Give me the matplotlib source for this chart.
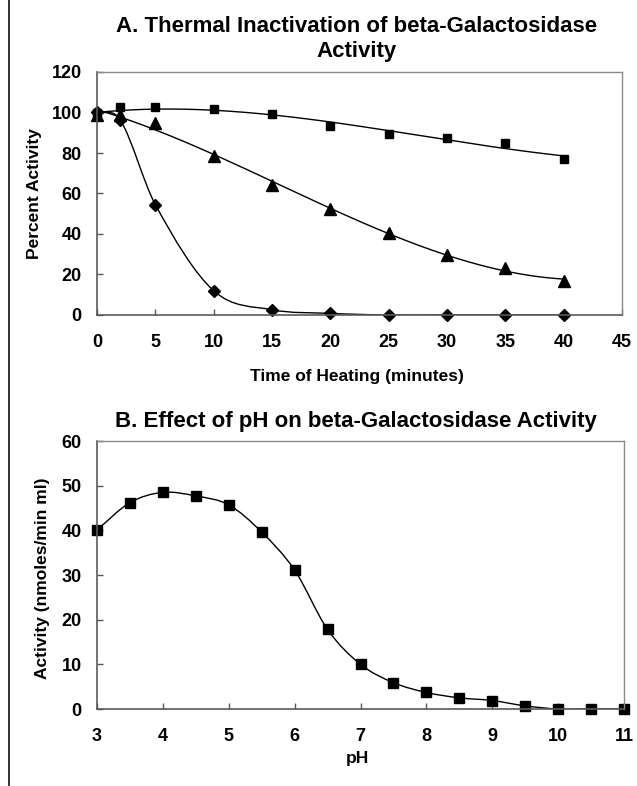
import numpy as np
import matplotlib
matplotlib.use('Agg')
import matplotlib.pyplot as plt
from matplotlib.path import Path
from matplotlib.patches import PathPatch
from matplotlib.lines import Line2D

plt.rcParams['font.family'] = ['Liberation Sans', 'DejaVu Sans']
plt.rcParams['font.weight'] = 'bold'

# Panel A: thermal inactivation (percent activity vs minutes of heating)
heat_time = [0, 2, 5, 10, 15, 20, 25, 30, 35, 40]
act_square = [100, 102.5, 102.5, 101.5, 99.5, 93.5, 89.2, 87.6, 84.8, 77]
act_triangle = [99, 98.7, 95, 78.5, 64, 52.5, 40.5, 29.5, 23.2, 16.8]
act_diamond = [100.2, 96.3, 54.5, 12, 2.6, 0.8, 0, 0, 0, 0]

# Panel B: pH profile
ph = [3, 3.5, 4, 4.5, 5, 5.5, 6, 6.5, 7, 7.5, 8, 8.5, 9, 9.5, 10, 10.5, 11]
ph_activity = [40.1, 46.2, 48.5, 47.7, 45.7, 39.6, 31.1, 17.8, 10.0, 5.9,
               3.7, 2.5, 1.9, 0.7, 0, 0, 0]

W, H = 637, 786
fig = plt.figure(figsize=(W / 100, H / 100), dpi=100)
fig.patch.set_facecolor('white')


def px_box(left, top, right, bottom):
    return [left / W, 1 - bottom / H, (right - left) / W, (bottom - top) / H]


def smooth_path(x, y):
    """Smooth curve through the points (cubic Hermite / Bezier segments)."""
    x = np.asarray(x, float)
    y = np.asarray(y, float)
    n = len(x)
    m = np.zeros(n)
    m[0] = (y[1] - y[0]) / (x[1] - x[0])
    m[-1] = (y[-1] - y[-2]) / (x[-1] - x[-2])
    for i in range(1, n - 1):
        m[i] = (y[i + 1] - y[i - 1]) / (x[i + 1] - x[i - 1])
    verts = [(x[0], y[0])]
    codes = [Path.MOVETO]
    for i in range(n - 1):
        h = x[i + 1] - x[i]
        verts += [(x[i] + h / 3, y[i] + m[i] * h / 3),
                  (x[i + 1] - h / 3, y[i + 1] - m[i + 1] * h / 3),
                  (x[i + 1], y[i + 1])]
        codes += [Path.CURVE4] * 3
    return Path(verts, codes)


def style_axes(ax):
    for side in ['left', 'bottom']:
        ax.spines[side].set_color('#5a5a5a')
        ax.spines[side].set_linewidth(1.2)
    for side in ['top', 'right']:
        ax.spines[side].set_color('#8c8c8c')
        ax.spines[side].set_linewidth(1.0)
    ax.tick_params(axis='both', direction='in', length=4, width=1,
                   color='#5a5a5a', labelsize=13)
    ax.tick_params(axis='x', pad=14)
    ax.tick_params(axis='y', pad=11)
    for lab in ax.get_xticklabels() + ax.get_yticklabels():
        lab.set_fontweight('bold')


# ---- Panel A ----
axA = fig.add_axes(px_box(97, 72, 622, 315))
xx = np.linspace(0, 40, 200)
w_sq = np.ones(len(heat_time))
w_sq[0] = 10
fit_sq = np.polyfit(heat_time, act_square, 3, w=w_sq)
fit_tr = np.polyfit(heat_time, act_triangle, 3)
axA.plot(xx, np.polyval(fit_sq, xx), color='black', lw=1.0)
axA.plot(xx, np.polyval(fit_tr, xx), color='black', lw=1.0)
axA.add_patch(PathPatch(smooth_path(heat_time, act_diamond), fill=False,
                        edgecolor='black', lw=1.0))
axA.plot(heat_time, act_square, 's', color='black', ms=6, clip_on=False)
axA.plot(heat_time, act_triangle, '^', color='black', ms=8, clip_on=False)
axA.plot(heat_time, act_diamond, 'D', color='black', ms=6.5, clip_on=False)
axA.set_xlim(0, 45)
axA.set_ylim(0, 120)
axA.set_xticks(range(0, 46, 5))
axA.set_yticks(range(0, 121, 20))
style_axes(axA)

fig.text(357 / W, 1 - 39 / H,
         'A. Thermal Inactivation of beta-Galactosidase\nActivity',
         ha='center', va='center', fontsize=16, fontweight='bold',
         linespacing=1.25)
fig.text(35 / W, 1 - 194 / H, 'Percent Activity', rotation=90,
         ha='center', va='center', fontsize=12.5, fontweight='bold')
fig.text(357 / W, 1 - 376 / H, 'Time of Heating (minutes)',
         ha='center', va='center', fontsize=12.5, fontweight='bold')

# ---- Panel B ----
axB = fig.add_axes(px_box(97, 441, 624, 709))
axB.add_patch(PathPatch(smooth_path(ph, ph_activity), fill=False,
                        edgecolor='black', lw=1.0))
axB.plot(ph, ph_activity, 's', color='black', ms=7.5, clip_on=False)
axB.set_xlim(3, 11)
axB.set_ylim(0, 60)
axB.set_xticks(range(3, 12))
axB.set_yticks(range(0, 61, 10))
style_axes(axB)

fig.text(356 / W, 1 - 421 / H,
         'B. Effect of pH on beta-Galactosidase Activity',
         ha='center', va='center', fontsize=16, fontweight='bold')
fig.text(43 / W, 1 - 578 / H, 'Activity (nmoles/min ml)', rotation=90,
         ha='center', va='center', fontsize=12.5, fontweight='bold')
fig.text(357 / W, 1 - 759 / H, 'pH',
         ha='center', va='center', fontsize=12.5, fontweight='bold')

# page border line at the left edge
fig.add_artist(Line2D([8.5 / W, 8.5 / W], [0.001, 1], color='#222222',
                      lw=1.3, transform=fig.transFigure))

fig.savefig('out.png', dpi=100, facecolor='white')
